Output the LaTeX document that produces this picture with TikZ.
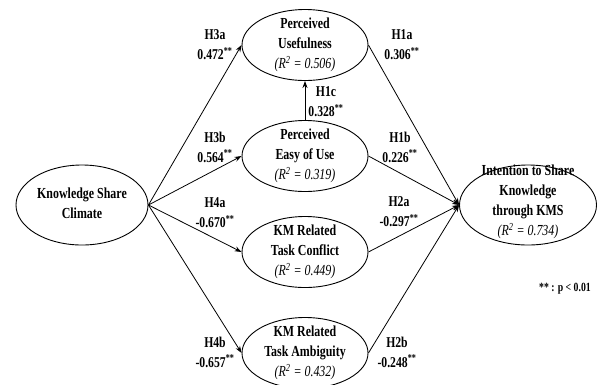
\documentclass[tikz,border=0pt]{standalone}
\usepackage{fontspec}
\setmainfont{Liberation Serif}[FakeStretch=0.78]
\usetikzlibrary{shapes.geometric,arrows.meta}
\begin{document}
\begin{tikzpicture}[x=1pt,y=-1pt,
  lat/.style={draw,ellipse,line width=0.9pt,inner sep=0pt},
  txt/.style={align=center,font=\fontsize{15.3}{20}\selectfont\bfseries,inner sep=0pt},
  coef/.style={align=center,font=\fontsize{15}{20}\selectfont\bfseries,inner sep=0pt},
  path/.style={line width=0.8pt,-{Stealth[length=7pt,width=5pt]}},
  plain/.style={line width=0.8pt}
]
\useasboundingbox (0,0) rectangle (597,384);
\newcommand{\rsq}[1]{{\mdseries\itshape (R\textsuperscript{2} = #1)}}
% ellipses
\node[lat,minimum width=132pt,minimum height=80pt] (ksc) at (82,205) {};
\node[lat,minimum width=126pt,minimum height=71pt] (pu) at (305,45) {};
\node[lat,minimum width=126pt,minimum height=71pt] (peu) at (305,156) {};
\node[lat,minimum width=126pt,minimum height=71pt] (tc) at (305,252) {};
\node[lat,minimum width=126pt,minimum height=71pt] (ta) at (305,353) {};
\node[lat,minimum width=137pt,minimum height=80pt] (int) at (528,205) {};
% texts
\node[txt] (kscT) at ([yshift=2pt]ksc.center) {Knowledge Share\\Climate};
\node[txt] (puT) at (pu.center) {Perceived\\Usefulness\\\rsq{0.506}};
\node[txt] (peuT) at (peu.center) {Perceived\\Easy of Use\\\rsq{0.319}};
\node[txt] (tcT) at (tc.center) {KM Related\\Task Conflict\\\rsq{0.449}};
\node[txt] (taT) at (ta.center) {KM Related\\Task Ambiguity\\\rsq{0.432}};
\node[txt] (intT) at ([yshift=3pt]int.center) {Intention to Share\\Knowledge\\through KMS\\\rsq{0.734}};
% paths
\draw[path] (ksc.east) -- (pu.west);
\draw[path] (ksc.east) -- (peu.west);
\draw[path] (ksc.east) -- (tc.west);
\draw[path] (ksc.east) -- (ta.west);
\draw[path] (peu.north) -- (pu.south);
\draw[path] (pu.east) -- (int.west);
\draw[path] (peu.east) -- (int.west);
\draw[path] (tc.east) -- (int.west);
\draw[path] (ta.east) -- (int.west);
% coefficients
\node[coef] (l3a) at (215,45) {H3a\\0.472\textsuperscript{**}};
\node[coef] (l3b) at (215,147) {H3b\\0.564\textsuperscript{**}};
\node[coef] (l4a) at (215,213) {H4a\\-0.670\textsuperscript{**}};
\node[coef] (l4b) at (215,352) {H4b\\-0.657\textsuperscript{**}};
\node[coef] (l1a) at (402,45) {H1a\\0.306\textsuperscript{**}};
\node[coef] (l1c) at (326,102) {H1c\\0.328\textsuperscript{**}};
\node[coef] (l1b) at (400,147) {H1b\\0.226\textsuperscript{**}};
\node[coef] (l2a) at (399,212) {H2a\\-0.297\textsuperscript{**}};
\node[coef] (l2b) at (397,352) {H2b\\-0.248\textsuperscript{**}};
\node[coef,font=\fontsize{12.5}{14}\selectfont\bfseries] (note) at (565,289) {** : p < 0.01};
\end{tikzpicture}
\end{document}
